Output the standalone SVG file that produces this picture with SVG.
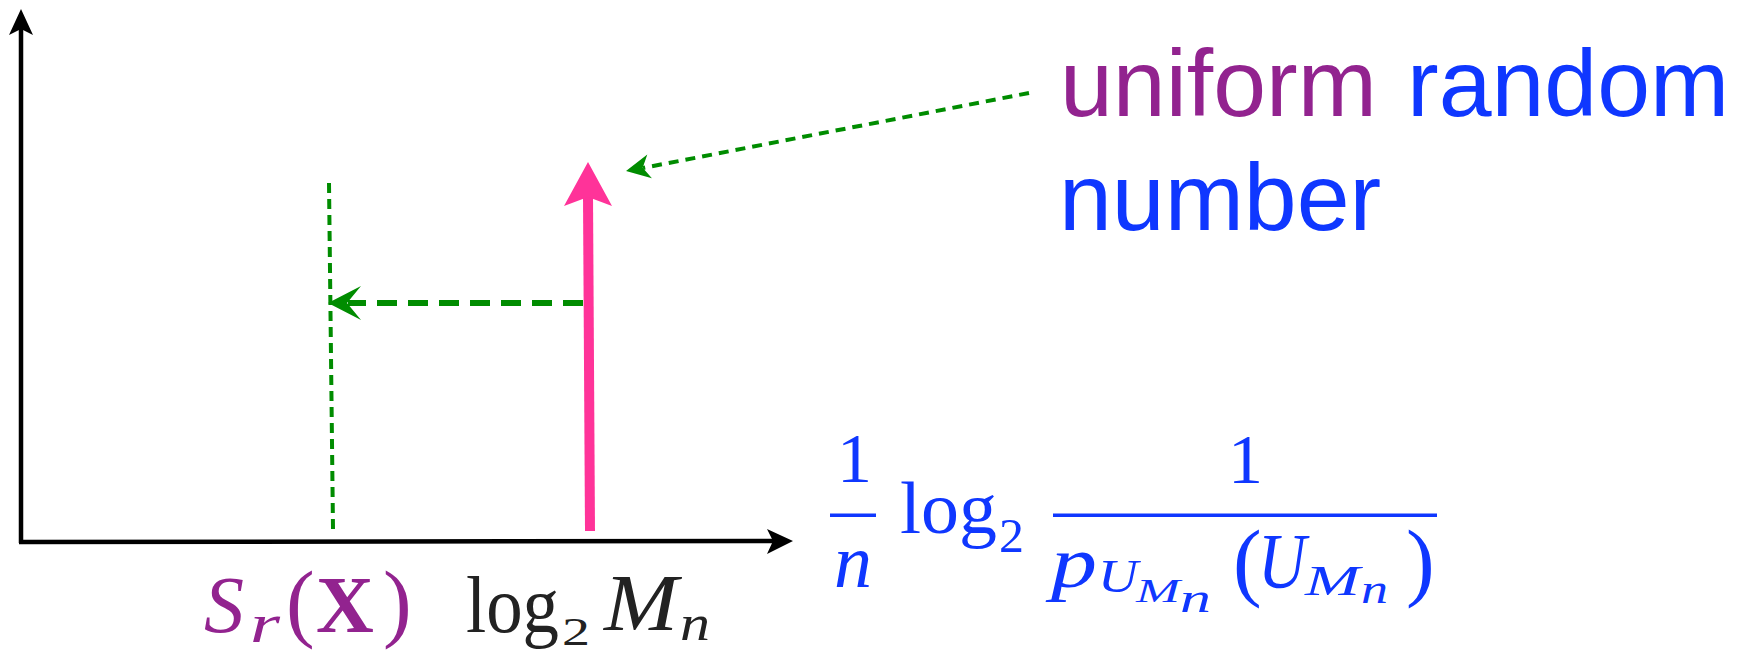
<svg xmlns="http://www.w3.org/2000/svg" width="1738" height="650" viewBox="0 0 1738 650">
<style>
.axis{stroke:#000;stroke-width:4.5;fill:none}
.ahead{fill:#000}
.gdash{stroke:#008C00;fill:none}
.ghead{fill:#008C00}
.math{font-family:"Liberation Serif",serif}
.it{font-style:italic}
.sans{font-family:"Liberation Sans",Arial,sans-serif}
.purple{fill:#92238F}
.blue{fill:#0F37FF}
</style>
<rect width="1738" height="650" fill="#fff"/>
<g id="axes">
<line class="axis" x1="21" y1="543" x2="21" y2="28"/>
<path class="ahead" d="M21,9 L33,35 L21,29 L9,35 Z"/>
<line class="axis" x1="19" y1="542" x2="775" y2="541"/>
<path class="ahead" d="M793,541 L767,529 L773,541 L767,554 Z"/>
</g>
<g id="connectors">
<line class="gdash" x1="329" y1="183" x2="333" y2="529" stroke-width="4" stroke-dasharray="10,6"/>
<line x1="590" y1="531" x2="588" y2="196" stroke="#FF3399" stroke-width="10"/>
<path fill="#FF3399" d="M588,162 L612,206 L588,197 L564,206 Z"/>
<line class="gdash" x1="583" y1="303" x2="348" y2="303" stroke-width="6" stroke-dasharray="20,11"/>
<path class="ghead" d="M328,303 L361,286 L347,303 L361,320 Z"/>
<line class="gdash" x1="1029" y1="93" x2="643" y2="168" stroke-width="4" stroke-dasharray="10,7"/>
<path class="ghead" d="M626,171 L647.3,154.6 L642.7,167.8 L651.9,178.2 Z"/>
</g>
<g id="label-uniform" class="sans" font-size="95">
<text class="purple" x="1060" y="116">uniform</text>
<text class="blue" x="1407" y="116">random</text>
<text class="blue" x="1059" y="230">number</text>
</g>
<g id="label-sr" class="math purple">
<text class="it" font-size="80" x="204" y="632">S</text>
<text class="it" font-size="54" x="250" y="642" textLength="30" lengthAdjust="spacingAndGlyphs">r</text>
<text font-size="86" x="286" y="631">(</text>
<text font-size="80" font-weight="bold" x="316" y="632">X</text>
<text font-size="86" x="383" y="631">)</text>
</g>
<g id="label-log" class="math" fill="#222">
<text font-size="80" x="466" y="632" textLength="93" lengthAdjust="spacingAndGlyphs">log</text>
<text font-size="40" x="562" y="645" textLength="28" lengthAdjust="spacingAndGlyphs">2</text>
<text class="it" font-size="80" x="604" y="630" textLength="74" lengthAdjust="spacingAndGlyphs">M</text>
<text class="it" font-size="50" x="680" y="640" textLength="30" lengthAdjust="spacingAndGlyphs">n</text>
</g>
<g id="label-formula" class="math blue">
<text font-size="70" x="854.5" y="482" text-anchor="middle">1</text>
<rect x="830" y="513.5" width="46" height="3.5"/>
<text class="it" font-size="76" x="853" y="587" text-anchor="middle">n</text>
<text font-size="74" x="900" y="533" textLength="97" lengthAdjust="spacingAndGlyphs">log</text>
<text font-size="49" x="999" y="552" textLength="25" lengthAdjust="spacingAndGlyphs">2</text>
<rect x="1053" y="513.5" width="384" height="3.5"/>
<text font-size="70" x="1245.5" y="483" text-anchor="middle">1</text>
<text class="it" font-size="72" x="1051" y="587" textLength="46" lengthAdjust="spacingAndGlyphs">p</text>
<text class="it" font-size="46" x="1098" y="592" textLength="40" lengthAdjust="spacingAndGlyphs">U</text>
<text class="it" font-size="33" x="1136" y="602" textLength="44" lengthAdjust="spacingAndGlyphs">M</text>
<text class="it" font-size="41" x="1180" y="612" textLength="31" lengthAdjust="spacingAndGlyphs">n</text>
<text font-size="86" x="1233" y="590">(</text>
<text class="it" font-size="78" x="1258" y="587" textLength="48" lengthAdjust="spacingAndGlyphs">U</text>
<text class="it" font-size="42" x="1305" y="595" textLength="55" lengthAdjust="spacingAndGlyphs">M</text>
<text class="it" font-size="39" x="1361" y="603" textLength="27" lengthAdjust="spacingAndGlyphs">n</text>
<text font-size="86" x="1406" y="590">)</text>
</g>
</svg>
